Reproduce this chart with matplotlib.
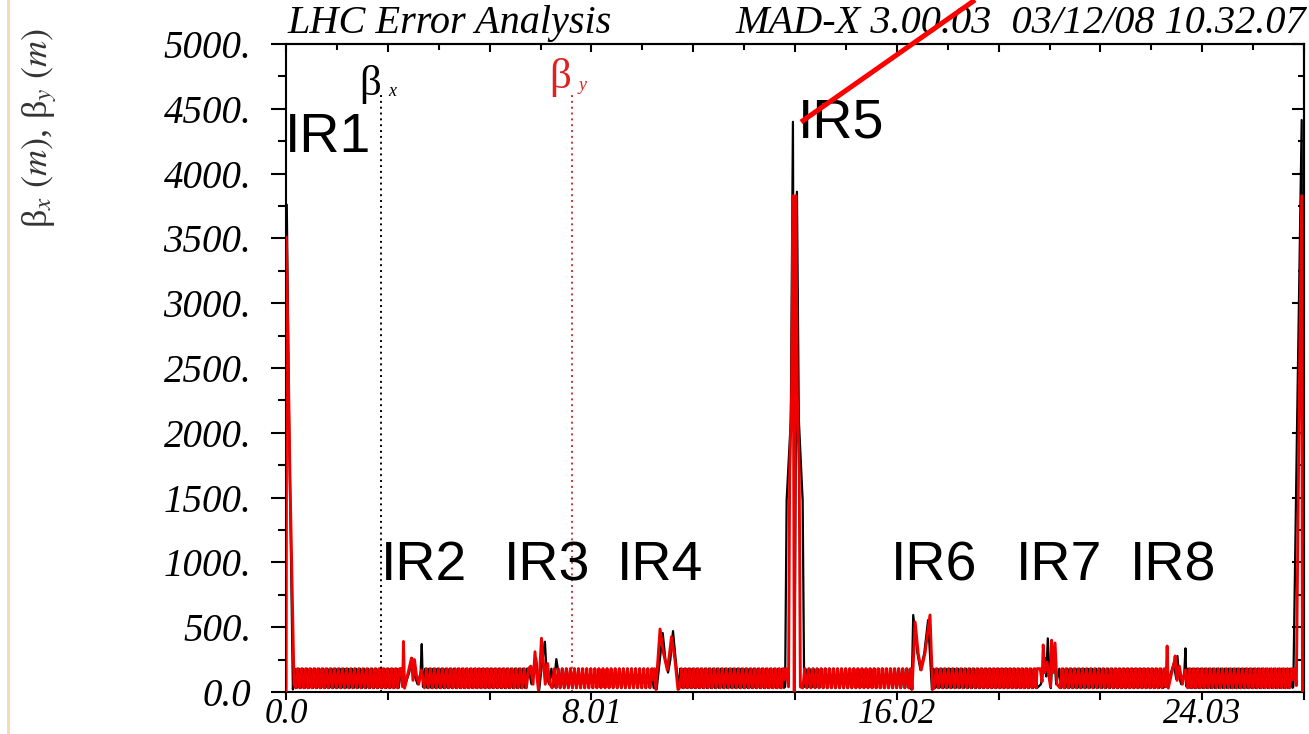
import matplotlib
matplotlib.use('Agg')
import matplotlib.pyplot as plt
import numpy as np
from matplotlib.lines import Line2D
from matplotlib.ticker import FixedLocator, FixedFormatter, MultipleLocator

plt.rcParams['font.family'] = 'Liberation Serif'
plt.rcParams['mathtext.fontset'] = 'stix'

# interaction points along the ring (km)
ir_names = ['IR1', 'IR2', 'IR3', 'IR4', 'IR5', 'IR6', 'IR7', 'IR8']
ir_s = [0.0, 3.33, 6.66, 10.0, 13.33, 16.66, 20.0, 23.33, 26.659]

# insertion profiles, beta_x (black): offset from IP (km), value (m)
betx_off = [
    [0.0, 0.02, 0.08, 0.18, 0.23],
    [-0.30, -0.20, -0.10, -0.02, 0.05, 0.12, 0.20, 0.23, 0.26, 0.32],
    [-0.30, -0.22, -0.16, -0.10, -0.05, -0.02, 0.04, 0.09, 0.13, 0.18, 0.24, 0.30, 0.36, 0.43, 0.47],
    [-0.32, -0.28, -0.12, -0.05, 0.02, 0.08, 0.15, 0.22, 0.30, 0.34],
    [-0.27, -0.24, -0.20, -0.09, -0.035, 0.01, 0.07, 0.12, 0.22, 0.26, 0.29],
    [-0.30, -0.25, -0.21, -0.10, -0.02, 0.08, 0.18, 0.28, 0.32],
    [-0.30, -0.20, -0.12, -0.09, -0.06, -0.02, 0.03, 0.06, 0.10, 0.14, 0.20, 0.28],
    [-0.32, -0.22, -0.12, -0.05, 0.02, 0.05, 0.09, 0.15, 0.23, 0.26, 0.29, 0.33],
    [-0.26, -0.24, -0.15, -0.02, 0.0],
]
betx_val = [
    [0.5, 3760, 2100, 20, 180],
    [180, 60, 150, 262, 120, 60, 150, 370, 40, 180],
    [180, 60, 200, 260, 100, 15, 180, 300, 388, 120, 60, 180, 40, 254, 180],
    [32, 20, 455, 250, 150, 250, 470, 250, 20, 180],
    [32, 40, 1480, 2100, 4400, 0.5, 3860, 2100, 1480, 40, 180],
    [32, 20, 594, 300, 170, 300, 555, 20, 180],
    [32, 60, 200, 262, 120, 414, 100, 30, 250, 320, 60, 180],
    [32, 60, 150, 220, 100, 278, 120, 60, 150, 337, 40, 180],
    [32, 40, 1890, 4414, 0.5],
]

# insertion profiles, beta_y (red)
bety_off = [
    [0.0, 0.01, 0.10, 0.21, 0.25],
    [-0.32, -0.27, -0.25, -0.22, -0.15, -0.09, -0.04, 0.0, 0.04, 0.09, 0.15, 0.22, 0.30],
    [-0.30, -0.24, -0.18, -0.13, -0.08, -0.04, 0.0, 0.04, 0.09, 0.14, 0.20, 0.26, 0.32],
    [-0.34, -0.30, -0.19, -0.10, 0.0, 0.06, 0.11, 0.20, 0.28, 0.32],
    [-0.22, -0.15, -0.12, -0.07, -0.03, 0.0, 0.04, 0.08, 0.13, 0.16, 0.22],
    [-0.28, -0.24, -0.16, -0.08, 0.0, 0.10, 0.23, 0.30, 0.34],
    [-0.30, -0.22, -0.17, -0.14, -0.10, -0.04, 0.02, 0.05, 0.08, 0.12, 0.17, 0.22, 0.30],
    [-0.30, -0.25, -0.22, -0.19, -0.10, -0.04, -0.01, 0.04, 0.10, 0.18, 0.26, 0.32],
    [-0.22, -0.16, -0.09, -0.02, 0.0],
]
bety_val = [
    [0.5, 3510, 1710, 60, 32],
    [180, 40, 390, 30, 120, 200, 262, 90, 250, 130, 60, 170, 32],
    [180, 200, 60, 311, 120, 15, 200, 415, 230, 60, 220, 60, 32],
    [180, 20, 486, 300, 170, 300, 427, 250, 20, 32],
    [180, 40, 1700, 2300, 3830, 0.5, 3830, 2300, 1700, 40, 32],
    [180, 20, 540, 300, 170, 300, 594, 20, 32],
    [180, 180, 80, 363, 150, 230, 100, 40, 400, 150, 378, 60, 32],
    [180, 40, 355, 30, 150, 220, 278, 90, 200, 60, 170, 32],
    [180, 50, 2100, 3830, 0.5],
]

# regular arc FODO cell (one cell, four samples)
arc_cell_km = 0.1069
arc_betx_cell = [180, 95, 32, 95]
arc_bety_cell = [32, 95, 180, 95]

y_ticks = [0, 500, 1000, 1500, 2000, 2500, 3000, 3500, 4000, 4500, 5000]
y_tick_labels = ['0.0', '500.', '1000.', '1500.', '2000.', '2500.', '3000.',
                 '3500.', '4000.', '4500.', '5000.']
x_tick_labels = ['0.0', '', '', '8.01', '', '', '16.02', '', '', '24.03', '']


def build(offs, vals, cell):
    s_all, b_all = [], []
    step = arc_cell_km / len(cell)
    for k in range(len(ir_s)):
        s_all += [ir_s[k] + o for o in offs[k]]
        b_all += vals[k]
        if k < len(ir_s) - 1:
            a0 = ir_s[k] + offs[k][-1]
            a1 = ir_s[k + 1] + offs[k + 1][0]
            s_arc = np.arange(a0 + step, a1 - step / 2, step)
            s_all += list(s_arc)
            b_all += [cell[(i + 1) % len(cell)] for i in range(len(s_arc))]
    return np.array(s_all), np.array(b_all)


sx, bx = build(betx_off, betx_val, arc_betx_cell)
sy, by = build(bety_off, bety_val, arc_bety_cell)

fig = plt.figure(figsize=(13.09, 7.34), dpi=100)
ax = fig.add_axes([0.2185, 0.0572, 0.7777, 0.8828])

ax.plot(sx, bx, color='black', lw=1.6, zorder=3)
ax.plot(sy, by, color='#ee0000', lw=2.1, zorder=4)

# legend markers as drawn by MAD-X
ax.plot([2.49, 2.49], [0, 4620], color='black', lw=1.4, ls=(0, (1, 2)), zorder=2)
ax.plot([7.50, 7.50], [0, 4620], color='#cc3333', lw=1.4, ls=(0, (1, 2)), zorder=2)
ax.text(2.2, 4690, 'β', fontsize=31, ha='center', va='center', color='black')
ax.text(2.78, 4630, 'x', fontsize=13, style='italic', ha='center', va='center', color='black')
ax.text(7.19, 4740, 'β', fontsize=31, ha='center', va='center', color='#dd2222')
ax.text(7.77, 4680, 'y', fontsize=13, style='italic', ha='center', va='center', color='#dd2222')

ax.set_xlim(0, 26.7)
ax.set_ylim(0, 5000)

for sp in ax.spines.values():
    sp.set_linewidth(1.5)

ax.yaxis.set_major_locator(FixedLocator(y_ticks))
ax.yaxis.set_major_formatter(FixedFormatter(y_tick_labels))
ax.yaxis.set_minor_locator(MultipleLocator(250))
ax.xaxis.set_major_locator(FixedLocator([2.67 * k for k in range(11)]))
ax.xaxis.set_major_formatter(FixedFormatter(x_tick_labels))
ax.tick_params(axis='y', which='major', direction='out', length=11, width=1.5, pad=14, labelsize=28)
ax.tick_params(axis='y', which='minor', direction='out', length=6, width=1.5)
ax.tick_params(axis='x', which='major', direction='out', length=6, width=1.5, pad=-1.5, labelsize=25)
for lab in ax.get_xticklabels() + ax.get_yticklabels():
    lab.set_style('italic')

ax_r = ax.secondary_yaxis('right')
ax_r.yaxis.set_major_locator(FixedLocator(y_ticks))
ax_r.yaxis.set_minor_locator(MultipleLocator(250))
ax_r.tick_params(which='major', direction='in', length=9, width=1.5, labelright=False)
ax_r.tick_params(which='minor', direction='in', length=4, width=1.5)
ax_r.spines['right'].set_linewidth(1.5)

ax_t = ax.secondary_xaxis('top')
ax_t.xaxis.set_major_locator(FixedLocator([2.67 * k for k in range(11)]))
ax_t.xaxis.set_minor_locator(MultipleLocator(1.335))
ax_t.tick_params(which='major', direction='in', length=6, width=1.5, labeltop=False)
ax_t.tick_params(which='minor', direction='in', length=4, width=1.5)
ax_t.spines['top'].set_linewidth(1.5)

# title line
fig.text(287 / 1309, 1 - 33 / 734, 'LHC Error Analysis', fontsize=29, style='italic', ha='left', va='baseline')
fig.text(1306 / 1309, 1 - 33 / 734, 'MAD-X 3.00.03  03/12/08 10.32.07', fontsize=29, style='italic',
         ha='right', va='baseline')

# y label
fig.text(0.030, 0.826, 'β$_x$ $(m)$, β$_y$ $(m)$', rotation=90, fontsize=26,
         ha='center', va='center', color='#333333')

# IR labels
ir_lab_s = [-0.03, 2.49, 5.72, 8.68, 13.43, 15.87, 19.15, 22.13]
ir_lab_y = [4167, 864, 864, 864, 4275, 864, 864, 864]
for name, xs, yv in zip(ir_names, ir_lab_s, ir_lab_y):
    ax.text(xs, yv, name, fontsize=40, family='Liberation Sans', ha='left', va='baseline',
            zorder=6, clip_on=False)

# slide decorations: pale border on the left and red pointer line
fig.add_artist(Line2D([8 / 1309, 8 / 1309], [0, 1], color='#f0dcb4', lw=2))
fig.add_artist(Line2D([801 / 1309, 975 / 1309], [1 - 122 / 734, 1.0], color='#ff0000', lw=3.6,
                      solid_capstyle='butt', zorder=10))

fig.savefig('out.png', dpi=100)
